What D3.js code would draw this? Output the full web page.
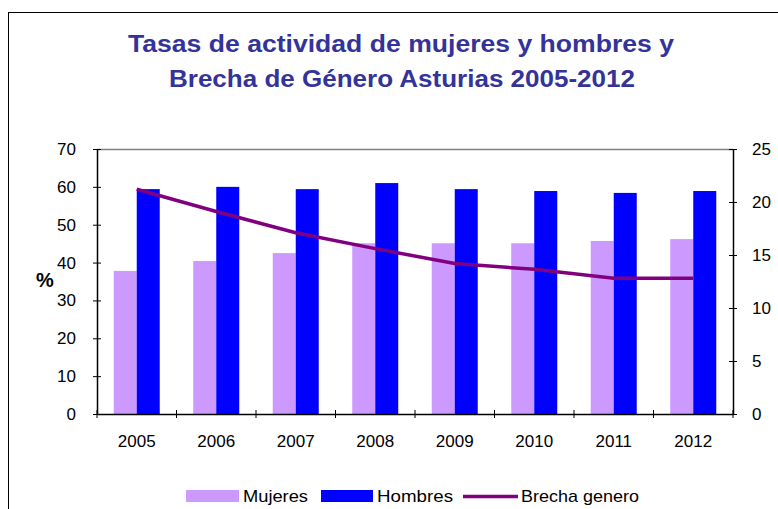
<!DOCTYPE html>
<html>
<head>
<meta charset="utf-8">
<script src="https://cdn.jsdelivr.net/npm/d3@7"></script>
<style>
  body { margin: 0; background: #fff; }
  svg text { font-family: Arial, "Liberation Sans", sans-serif; }
</style>
</head>
<body>
<div id="chart"></div>
<script>
// Data
const years = ["2005", "2006", "2007", "2008", "2009", "2010", "2011", "2012"];
const mujeres = [37.8, 40.4, 42.5, 45.1, 45.1, 45.1, 45.7, 46.2];
const hombres = [59.4, 60.0, 59.4, 61.0, 59.4, 58.9, 58.4, 58.9];
const brecha = [21.2, 19.1, 17.1, 15.6, 14.2, 13.65, 12.8, 12.8];
const leftTicks = [0, 10, 20, 30, 40, 50, 60, 70];
const rightTicks = [0, 5, 10, 15, 20, 25];

const W = 778, H = 509;
const margin = { top: 149, right: 45, bottom: 95, left: 97 };
const width = W - margin.left - margin.right;
const height = H - margin.top - margin.bottom;

const svg = d3.select("#chart")
  .append("svg")
  .attr("width", W)
  .attr("height", H);

// outer frame
svg.append("rect")
  .attr("x", 8.5).attr("y", 12.5)
  .attr("width", 900).attr("height", 700)
  .attr("fill", "none")
  .attr("stroke", "#000")
  .attr("stroke-width", 1);

// title
const title = svg.append("text")
  .attr("text-anchor", "middle")
  .style("font-size", "23px")
  .style("font-weight", "bold")
  .attr("fill", "#333399");
title.append("tspan").attr("x", 401).attr("y", 52)
  .attr("textLength", 546).attr("lengthAdjust", "spacingAndGlyphs")
  .text("Tasas de actividad de mujeres y hombres y");
title.append("tspan").attr("x", 402).attr("y", 87)
  .attr("textLength", 466).attr("lengthAdjust", "spacingAndGlyphs")
  .text("Brecha de Género Asturias 2005-2012");

const g = svg.append("g")
  .attr("transform", "translate(" + margin.left + "," + margin.top + ")");

// scales
const x = d3.scaleBand().domain(years).range([0, width]);
const y = d3.scaleLinear().domain([0, 70]).range([height, 0]);
const y2 = d3.scaleLinear().domain([0, 25]).range([height, 0]);

const barW = 23;

// top border of plot area
g.append("line")
  .attr("x1", 0).attr("x2", width)
  .attr("y1", 0.5).attr("y2", 0.5)
  .attr("stroke", "#808080")
  .attr("stroke-width", 1.5);

// bars
g.selectAll(".muj")
  .data(years)
  .enter()
  .append("rect")
  .attr("x", (d) => x(d) + x.bandwidth() / 2 - barW)
  .attr("y", (d, i) => y(mujeres[i]))
  .attr("width", barW)
  .attr("height", (d, i) => height - y(mujeres[i]))
  .attr("fill", "#CC99FF");

g.selectAll(".hom")
  .data(years)
  .enter()
  .append("rect")
  .attr("x", (d) => x(d) + x.bandwidth() / 2)
  .attr("y", (d, i) => y(hombres[i]))
  .attr("width", barW)
  .attr("height", (d, i) => height - y(hombres[i]))
  .attr("fill", "#0000FF");

// line
const line = d3.line()
  .x((d, i) => x(years[i]) + x.bandwidth() / 2)
  .y((d) => y2(d));

g.append("path")
  .datum(brecha)
  .attr("d", line)
  .attr("fill", "none")
  .attr("stroke", "#800080")
  .attr("stroke-width", 3.5);

// axes
function styleAxis(sel) {
  sel.select(".domain").attr("stroke", "#000").attr("stroke-width", 1.5);
  sel.selectAll(".tick line").attr("stroke", "#000");
  sel.selectAll("text").style("font-size", "17px").attr("fill", "#000");
}

g.append("g")
  .call(d3.axisLeft(y).tickValues(leftTicks).tickSize(4).tickSizeOuter(0).tickPadding(17))
  .call(styleAxis)
  .call((a) => a.selectAll(".tick line").attr("x1", 4));

g.append("g")
  .attr("transform", "translate(" + width + ",0)")
  .call(d3.axisRight(y2).tickValues(rightTicks).tickSize(4).tickSizeOuter(0).tickPadding(15))
  .call(styleAxis)
  .call((a) => a.selectAll(".tick line").attr("x1", -4));

// x axis with ticks at band boundaries
g.append("g")
  .attr("transform", "translate(0," + height + ")")
  .call(d3.axisBottom(x).tickSize(0).tickPadding(21))
  .call(styleAxis);

g.append("g")
  .selectAll("line")
  .data(d3.range(years.length + 1))
  .enter()
  .append("line")
  .attr("x1", (i) => i * x.step())
  .attr("x2", (i) => i * x.step())
  .attr("y1", height - 4)
  .attr("y2", height + 4)
  .attr("stroke", "#000");

// y label
svg.append("text")
  .attr("x", 45)
  .attr("y", 287)
  .attr("text-anchor", "middle")
  .style("font-size", "20px")
  .style("font-weight", "bold")
  .text("%");

// legend
const legend = svg.append("g").attr("transform", "translate(0,496)");
legend.append("rect").attr("x", 186).attr("y", -6).attr("width", 53).attr("height", 12).attr("fill", "#CC99FF");
legend.append("text").attr("x", 243).attr("y", 6).style("font-size", "17px")
  .attr("textLength", 65).attr("lengthAdjust", "spacingAndGlyphs").text("Mujeres");
legend.append("rect").attr("x", 321).attr("y", -6).attr("width", 52).attr("height", 12).attr("fill", "#0000FF");
legend.append("text").attr("x", 377).attr("y", 6).style("font-size", "17px")
  .attr("textLength", 76).attr("lengthAdjust", "spacingAndGlyphs").text("Hombres");
legend.append("line").attr("x1", 463).attr("x2", 518).attr("y1", 0.5).attr("y2", 0.5)
  .attr("stroke", "#800080").attr("stroke-width", 3.5);
legend.append("text").attr("x", 521).attr("y", 6).style("font-size", "17px")
  .attr("textLength", 118).attr("lengthAdjust", "spacingAndGlyphs").text("Brecha genero");
</script>
</body>
</html>
